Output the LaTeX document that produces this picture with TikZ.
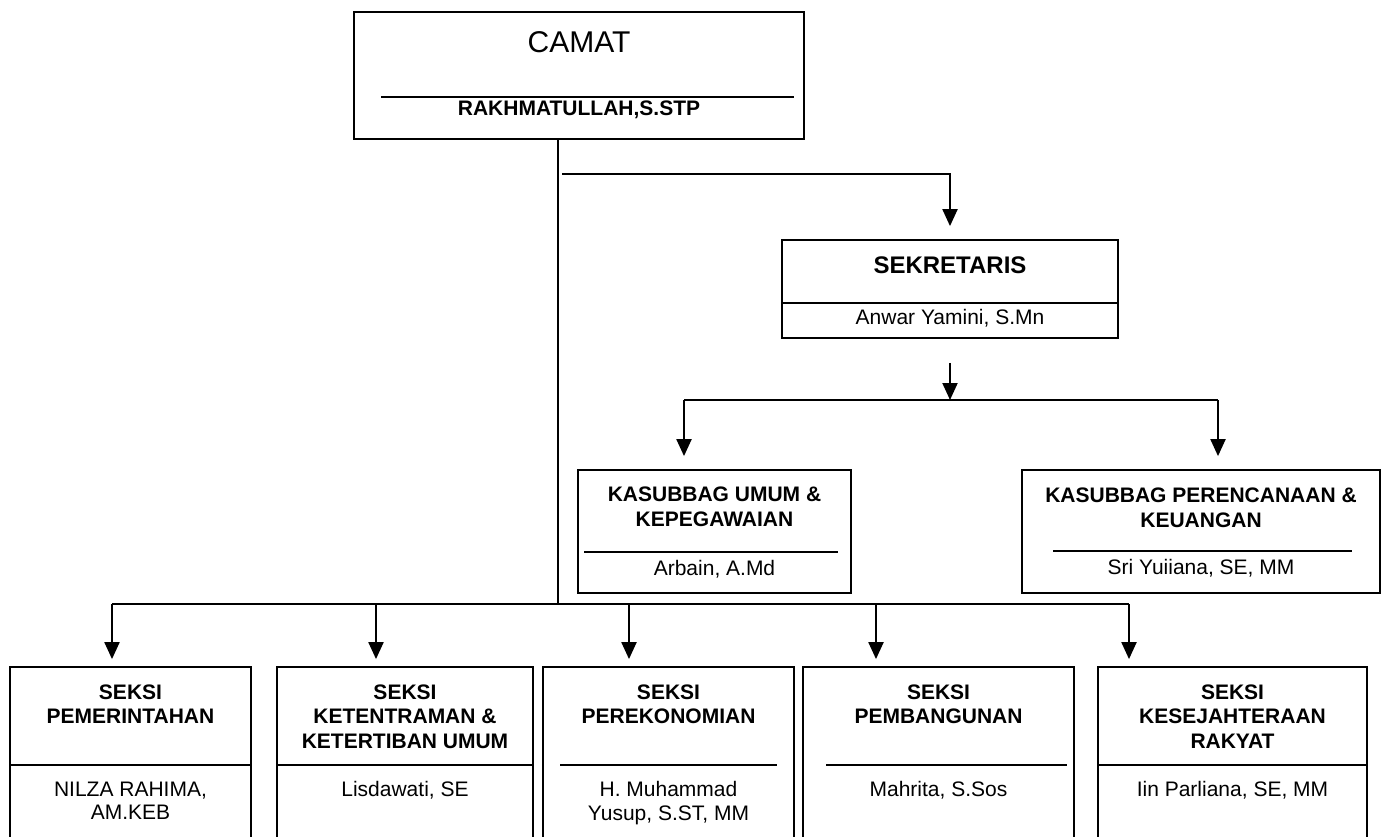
\documentclass[tikz,border=0pt]{standalone}
\usepackage{fontspec}
\setmainfont{Liberation Sans}
\usetikzlibrary{arrows.meta,calc}
\begin{document}
\begin{tikzpicture}[x=1pt,y=-1pt,
  box/.style={draw, line width=1.8pt, rectangle, inner sep=0pt},
  sepline/.style={line width=1.7pt},
  con/.style={line width=2.1pt},
  arr/.style={con, -{Triangle[width=15pt,length=17pt]}},
  lbl/.style={anchor=north, inner sep=0pt, align=center, font=\fontsize{21}{24.5}\selectfont},
  lblb/.style={anchor=north, inner sep=0pt, align=center, font=\fontsize{21}{24.5}\selectfont\bfseries},
  nm/.style={anchor=north, inner sep=0pt, align=center, font=\fontsize{21}{23.5}\selectfont},
]
\useasboundingbox (0,0) rectangle (1394,837);
\clip (0,0) rectangle (1394,837);

% boxes
\node[box, minimum width=450pt, minimum height=127pt] (camat) at (579,75.5) {};
\node[box, minimum width=336pt, minimum height=98pt] (sek) at (950,289) {};
\node[box, minimum width=273pt, minimum height=123pt] (kas1) at (714.5,531.5) {};
\node[box, minimum width=358pt, minimum height=123pt] (kas2) at (1201,531.5) {};
\node[box, minimum width=241pt, minimum height=183pt] (s1) at (130.5,758.5) {};
\node[box, minimum width=256pt, minimum height=183pt] (s2) at (405,758.5) {};
\node[box, minimum width=251pt, minimum height=183pt] (s3) at (668.5,758.5) {};
\node[box, minimum width=271pt, minimum height=183pt] (s4) at (938.5,758.5) {};
\node[box, minimum width=269pt, minimum height=183pt] (s5) at (1232.5,758.5) {};

% separators
\draw[sepline] (381,97) -- (794,97);
\draw[sepline] (sek.west |- 0,303) -- (sek.east |- 0,303);
\draw[sepline] (584,552) -- (838,552);
\draw[sepline] (1053,551) -- (1352,551);
\draw[sepline] (s1.west |- 0,765) -- (s1.east |- 0,765);
\draw[sepline] (s2.west |- 0,765) -- (s2.east |- 0,765);
\draw[sepline] (560,765) -- (777,765);
\draw[sepline] (826,765) -- (1067,765);
\draw[sepline] (s5.west |- 0,765) -- (s5.east |- 0,765);

% texts
\node[anchor=north, inner sep=0pt, font=\fontsize{30}{34}\selectfont] (tcamat) at (579,31) {CAMAT};
\node[lblb] (ncamat) at (579,100.5) {RAKHMATULLAH,S.STP};
\node[lblb, font=\fontsize{24}{28}\selectfont\bfseries] (tsek) at (950,256.5) {SEKRETARIS};
\node[lbl] (nsek) at (950,309.5) {Anwar Yamini, S.Mn};
\node[lblb, font=\fontsize{21}{25}\selectfont\bfseries] (tkas1) at (714.5,486.5) {KASUBBAG UMUM \&\\KEPEGAWAIAN};
\node[lbl] (nkas1) at (714.5,560.5) {Arbain, A.Md};
\node[lblb, font=\fontsize{21}{25}\selectfont\bfseries] (tkas2) at (1201,487.5) {KASUBBAG PERENCANAAN \&\\KEUANGAN};
\node[lbl] (nkas2) at (1201,559) {Sri Yuiiana, SE, MM};

\node[lblb] (ts1) at (130.5,684.5) {SEKSI\\PEMERINTAHAN};
\node[nm] (ns1) at (130.5,781.5) {NILZA RAHIMA,\\AM.KEB};
\node[lblb] (ts2) at (405,684.5) {SEKSI\\KETENTRAMAN \&\\KETERTIBAN UMUM};
\node[nm] (ns2) at (405,781.5) {Lisdawati, SE};
\node[lblb] (ts3) at (668.5,684.5) {SEKSI\\PEREKONOMIAN};
\node[nm] (ns3) at (668.5,781.5) {H. Muhammad\\Yusup, S.ST, MM};
\node[lblb] (ts4) at (938.5,684.5) {SEKSI\\PEMBANGUNAN};
\node[nm] (ns4) at (938.5,781.5) {Mahrita, S.Sos};
\node[lblb] (ts5) at (1232.5,684.5) {SEKSI\\KESEJAHTERAAN\\RAKYAT};
\node[nm] (ns5) at (1232.5,781.5) {Iin Parliana, SE, MM};

% connectors: camat to sekretaris
\coordinate (j1) at (562,174);
\draw[arr, shorten >=13pt] (j1) -| (sek.north);

% sekretaris to kasubbag
\coordinate (b0) at (950,400);
\coordinate (b1) at (684,400);
\coordinate (b2) at (1218,400);
\draw[arr] ($(sek.south)+(0,24)$) -- (b0);
\draw[con] (b1) -- (b2);
\draw[arr, shorten >=13pt] (b1) -- (b1 |- kas1.north);
\draw[arr, shorten >=13pt] (b2) -- (b2 |- kas2.north);

% camat to seksi
\coordinate (bus) at (558,604);
\coordinate (a1) at (112,604);
\coordinate (a2) at (376,604);
\coordinate (a3) at (629,604);
\coordinate (a4) at (876,604);
\coordinate (a5) at (1129,604);
\draw[con] (camat.south -| bus) -- (bus);
\draw[con] (a1) -- (a5);
\draw[arr, shorten >=7pt] (a1) -- (a1 |- s1.north);
\draw[arr, shorten >=7pt] (a2) -- (a2 |- s2.north);
\draw[arr, shorten >=7pt] (a3) -- (a3 |- s3.north);
\draw[arr, shorten >=7pt] (a4) -- (a4 |- s4.north);
\draw[arr, shorten >=7pt] (a5) -- (a5 |- s5.north);
\end{tikzpicture}
\end{document}
